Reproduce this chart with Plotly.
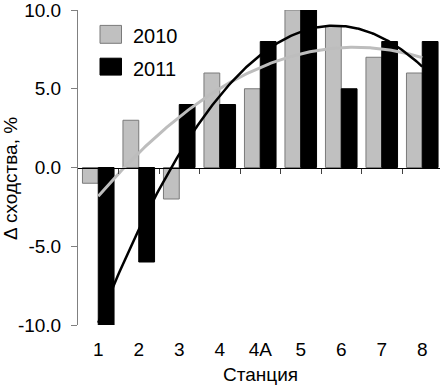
import numpy as np
import plotly.graph_objects as go

# ---- data ----
stations = ["1", "2", "3", "4", "4A", "5", "6", "7", "8"]
years = ["2010", "2011"]
values_2010 = [-1, 3, -2, 6, 5, 10, 9, 7, 6]
values_2011 = [-10, -6, 4, 4, 8, 10, 5, 8, 8]
y_ticks = [-10, -5, 0, 5, 10]
y_tick_text = [f"{v:.1f}" for v in y_ticks]

FONT = "Liberation Sans, Arial, sans-serif"
GREY = "#c0c0c0"
GREY_EDGE = "#7a7a7a"

pos = np.arange(len(stations))

# 2nd-order polynomial trendlines (as in the original spreadsheet chart)
xs = np.linspace(pos[0], pos[-1], 200)
fit10 = np.polyval(np.polyfit(pos, values_2010, 2), xs)
fit11 = np.polyval(np.polyfit(pos, values_2011, 2), xs)

fig = go.Figure()
fig.add_trace(go.Bar(x=pos, y=values_2010, name=years[0],
                     marker=dict(color=GREY, line=dict(color=GREY_EDGE, width=1))))
fig.add_trace(go.Bar(x=pos, y=values_2011, name=years[1],
                     marker=dict(color="black", line=dict(color="black", width=1))))
fig.add_trace(go.Scatter(x=xs, y=fit10, mode="lines", xaxis="x2", yaxis="y",
                         line=dict(color="#bdbdbd", width=3), hoverinfo="skip"))
fig.add_trace(go.Scatter(x=xs, y=fit11, mode="lines", xaxis="x2", yaxis="y",
                         line=dict(color="black", width=2.5), hoverinfo="skip"))

W, H = 440, 385
L, R, T, B = 78, 0, 8, 60
pw, ph = W - L - R, H - T - B
cat_px = 40.5
x_range = [-0.5, -0.5 + pw / cat_px]

def px_x(p):
    return (p - L) / pw

def px_y(p):
    return 1 - (p - T) / ph

shapes = [
    dict(type="rect", xref="paper", yref="paper",
         x0=px_x(100), x1=px_x(121.5), y0=px_y(41.5), y1=px_y(23.5),
         fillcolor=GREY, line=dict(color=GREY_EDGE, width=1)),
    dict(type="rect", xref="paper", yref="paper",
         x0=px_x(100), x1=px_x(121.5), y0=px_y(73.5), y1=px_y(56.5),
         fillcolor="black", line=dict(color="black", width=1)),
]
annotations = [
    dict(text=years[0], xref="paper", yref="paper", x=px_x(131), y=px_y(34),
         xanchor="left", yanchor="middle", showarrow=False,
         font=dict(family=FONT, size=20, color="black")),
    dict(text=years[1], xref="paper", yref="paper", x=px_x(131), y=px_y(67),
         xanchor="left", yanchor="middle", showarrow=False,
         font=dict(family=FONT, size=20, color="black")),
    dict(text="Δ сходства, %", xref="paper", yref="paper", x=px_x(11), y=px_y(178),
         xanchor="center", yanchor="middle", textangle=-90, showarrow=False,
         font=dict(family=FONT, size=19, color="black")),
    dict(text="Станция", xref="paper", yref="paper", x=px_x(260), y=px_y(375),
         xanchor="center", yanchor="middle", showarrow=False,
         font=dict(family=FONT, size=19, color="black")),
]

fig.update_layout(
    width=W, height=H,
    margin=dict(l=L, r=R, t=T, b=B, pad=0),
    paper_bgcolor="white", plot_bgcolor="white",
    barmode="group", bargap=0.22, bargroupgap=0,
    showlegend=False,
    font=dict(family=FONT, size=19, color="black"),
    xaxis=dict(type="linear", range=x_range, tickmode="array", tickvals=pos,
               ticktext=stations, showline=False, ticks="", showgrid=False,
               zeroline=False, ticklabelstandoff=11,
               tickfont=dict(family=FONT, size=19)),
    xaxis2=dict(type="linear", overlaying="x", matches="x", anchor="free", position=0.5,
                showline=True, linecolor="black", linewidth=1,
                ticks="outside", ticklen=5, tickcolor="#404040", tickwidth=1,
                tickmode="array", tickvals=pos[:-1] + 0.5,
                showticklabels=False, showgrid=False, zeroline=False),
    yaxis=dict(range=[y_ticks[0], y_ticks[-1]], tickmode="array", tickvals=y_ticks,
               ticktext=y_tick_text, showline=True, linecolor="#808080", linewidth=1,
               ticks="outside", ticklen=6, tickcolor="#808080", showgrid=False,
               zeroline=False, ticklabelstandoff=6, ticklabeloverflow="allow",
               tickfont=dict(family=FONT, size=19)),
    shapes=shapes,
    annotations=annotations,
)

fig.write_html("out.html", config={"displayModeBar": False},
               post_script="document.body.style.margin='0';document.body.style.padding='0';")
